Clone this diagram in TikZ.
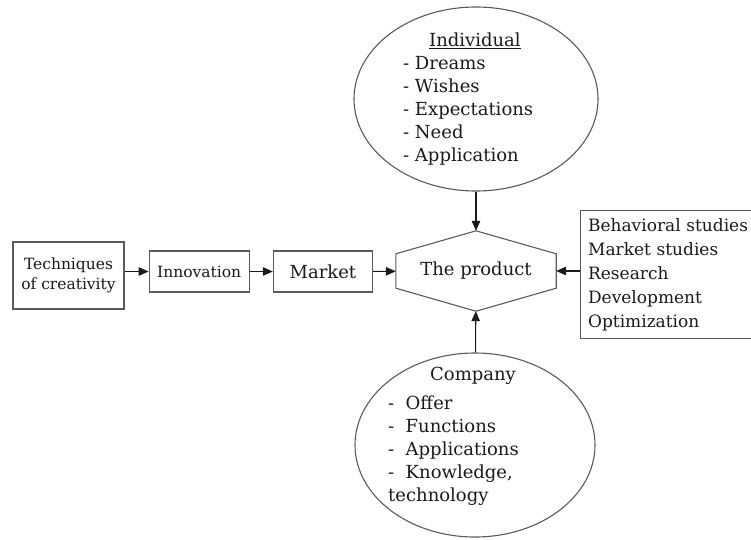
\documentclass[tikz,border=0pt]{standalone}
\usepackage{fontspec}
\setmainfont{DejaVu Serif}
\usetikzlibrary{shapes.geometric, arrows.meta, positioning}
\definecolor{EdgeGray}{HTML}{5A5A5A}
\definecolor{InkBlack}{HTML}{1A1A1A}
\tikzset{
    box/.style={draw=EdgeGray, line width=1.2pt, fill=white, align=center, inner sep=2pt, text=InkBlack, font=\fontsize{15.5}{20}\selectfont},
    bigbox/.style={box, font=\fontsize{18}{24}\selectfont},
    bubble/.style={ellipse, draw=EdgeGray, line width=1.1pt, inner sep=0pt},
    listtext/.style={align=left, inner sep=0pt, anchor=west, text=InkBlack, font=\fontsize{18}{23}\selectfont},
    arr/.style={-{Triangle[length=10pt, width=8.5pt]}, line width=1.1pt, draw=InkBlack}
}

\begin{document}
\begin{tikzpicture}[x=1pt, y=-1pt, node distance=24pt]
    \useasboundingbox (0,0) rectangle (751,539);
    \clip (0,0) rectangle (751,539);

    % Chain on the left
    \node[box, minimum width=111pt, minimum height=67pt] (tech) at (68.5,275.5) {Techniques\\of creativity};
    \node[box, minimum width=100pt, minimum height=41pt, right=of tech, yshift=4pt] (innov) {Innovation};
    \node[bigbox, minimum width=99pt, minimum height=41pt, right=23pt of innov] (market) {Market};

    % The product: hexagon drawn round an empty frame
    \node[minimum width=160pt, minimum height=80pt, inner sep=0pt, text=InkBlack, font=\fontsize{18}{24}\selectfont] (prod) at (476,271) {The product};
    \draw[draw=EdgeGray, line width=1.1pt] (prod.north) -- ([yshift=-23pt]prod.north east) -- ([yshift=23pt]prod.south east)
        -- (prod.south) -- ([yshift=23pt]prod.south west) -- ([yshift=-23pt]prod.north west) -- cycle;

    % Studies box (right)
    \node[bigbox, anchor=north west, align=left, minimum width=190pt, minimum height=128pt, text width=175pt, inner xsep=7pt,
        font=\fontsize{17}{24}\selectfont] (studies) at (580,210)
        {Behavioral studies\\Market studies\\Research\\Development\\Optimization};

    % Individual (top)
    \node[bubble, minimum width=244pt, minimum height=184pt] (indiv) at (476,99) {};
    \node[listtext] (indivtxt) at (403,99.5) {\hspace*{26pt}\underline{Individual}\\- Dreams\\- Wishes\\- Expectations\\- Need\\- Application};

    % Company (bottom)
    \node[bubble, minimum width=240pt, minimum height=184pt] (comp) at (475,445) {};
    \node[listtext] (comptxt) at (388,436.5) {\hspace*{42pt}Company\\[6pt]-\ \ Offer\\-\ \ Functions\\-\ \ Applications\\-\ \ Knowledge,\\technology};

    \draw[arr] (tech.east |- innov.west) -- (innov.west);
    \draw[arr] (innov) -- (market);
    \draw[arr] (market) -- (prod);
    \draw[arr] (indiv) -- (prod);
    \draw[arr] (comp) -- (prod);
    \draw[arr] (studies.west |- prod.east) -- (prod.east);
\end{tikzpicture}
\end{document}
